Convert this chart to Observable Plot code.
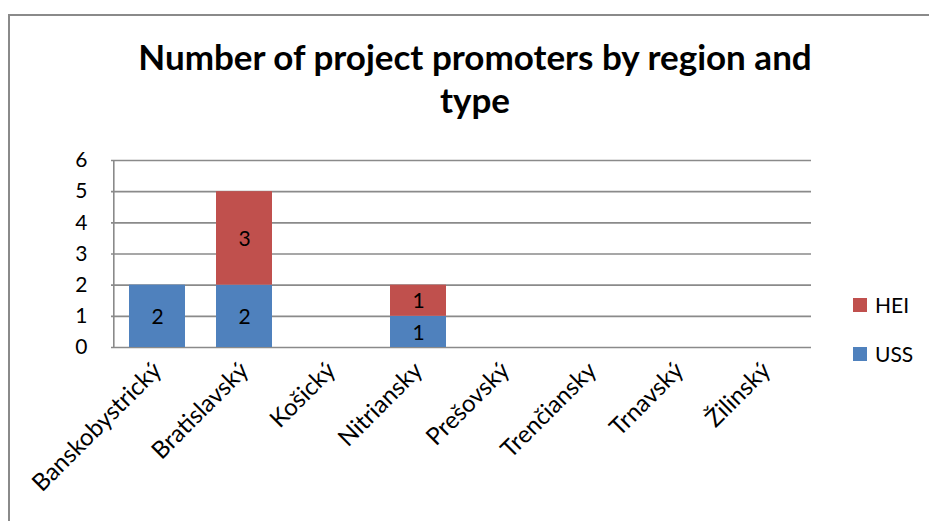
<!DOCTYPE html>
<html>
<head>
<meta charset="utf-8">
<script src="https://cdn.jsdelivr.net/npm/d3@7"></script>
<script src="https://cdn.jsdelivr.net/npm/@observablehq/plot@0.6"></script>
<style>
  html, body { margin: 0; padding: 0; background: #fff; }
  #wrap { position: relative; width: 929px; height: 521px; overflow: hidden; font-family: Lato, "Open Sans", sans-serif; }
  #frame { position: absolute; left: 8px; top: 14px; width: 940px; height: 540px; border-left: 2px solid #8a8a8a; border-top: 2px solid #8a8a8a; }
  #title { position: absolute; left: 0; top: 35px; width: 950px; text-align: center; font-weight: bold; font-size: 35px; line-height: 43px; color: #000; }
  #chart { position: absolute; left: 0; top: 130px; }
  .leg { position: absolute; left: 853px; font-size: 21px; color: #000; display: flex; align-items: center; }
  .leg span.sw { width: 14px; height: 14px; display: inline-block; margin-right: 8px; }
</style>
</head>
<body>
<div id="wrap">
  <div id="frame"></div>
  <div id="title">Number of project promoters by region and<br>type</div>
  <div id="chart"></div>
  <div class="leg" style="top:292px"><span class="sw" style="background:#C0504D"></span>HEI</div>
  <div class="leg" style="top:341px"><span class="sw" style="background:#4F81BD"></span>USS</div>
</div>
<script>
const regions = ["Banskobystrický", "Bratislavský", "Košický", "Nitriansky", "Prešovský", "Trenčiansky", "Trnavský", "Žilinský"];
const seriesNames = ["USS", "HEI"];
const ussValues = [2, 2, 0, 1, 0, 0, 0, 0];
const heiValues = [0, 3, 0, 1, 0, 0, 0, 0];
const yTicks = [0, 1, 2, 3, 4, 5, 6];
const colors = ["#4F81BD", "#C0504D"];

const data = [];
regions.forEach((r, i) => {
  data.push({region: r, type: "USS", value: ussValues[i]});
  data.push({region: r, type: "HEI", value: heiValues[i]});
});

const chart = Plot.plot({
  width: 929,
  height: 391,
  marginTop: 30,
  marginBottom: 174,
  marginLeft: 111,
  marginRight: 118,
  style: {fontFamily: "Lato, 'Open Sans', sans-serif", color: "#000", background: "transparent"},
  x: {domain: regions, paddingInner: 0.36, paddingOuter: 0.18, label: null},
  y: {domain: [0, 6], label: null},
  color: {domain: seriesNames, range: colors},
  marks: [
    Plot.gridY(yTicks, {stroke: "#8a8a8a", strokeOpacity: 1, strokeWidth: 1.6}),
    Plot.barY(data, Plot.stackY({x: "region", y: "value", fill: "type", order: seriesNames})),
    Plot.text(data.filter(d => d.value > 0), Plot.stackY({x: "region", y: "value", z: "type", order: seriesNames, text: "value", fontSize: 21, fill: "#000", dy: 1})),
    Plot.ruleX([0], {x: () => regions[0], dx: -43.7, y1: 0, y2: 6, stroke: "#8a8a8a", strokeWidth: 1.6}),
    Plot.axisY(yTicks, {tickSize: 0, tickPadding: 24, fontSize: 21, label: null}),
    Plot.axisX({tickSize: 0, tickPadding: 19, tickRotate: -45, fontSize: 24, label: null})
  ]
});
document.getElementById("chart").appendChild(chart);
</script>
</body>
</html>
